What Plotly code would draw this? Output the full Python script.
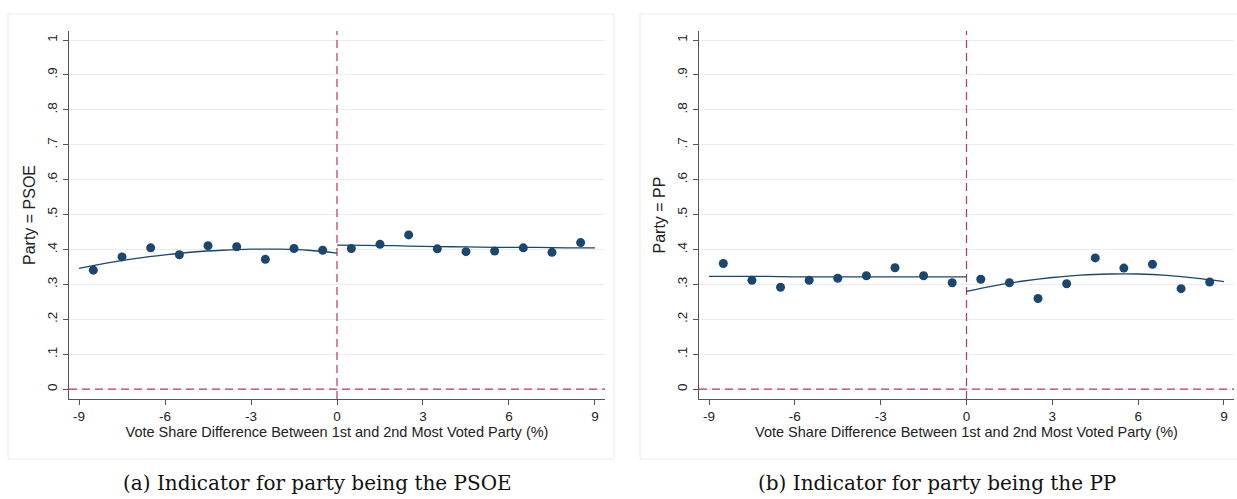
import plotly.graph_objects as go

# ---------------- data ----------------
bins = [-8.5, -7.5, -6.5, -5.5, -4.5, -3.5, -2.5, -1.5, -0.5,
        0.5, 1.5, 2.5, 3.5, 4.5, 5.5, 6.5, 7.5, 8.5]

psoe_pts = [0.341, 0.379, 0.405, 0.385, 0.411, 0.408, 0.372, 0.403, 0.398,
            0.403, 0.415, 0.442, 0.402, 0.394, 0.396, 0.405, 0.392, 0.420]
pp_pts = [0.360, 0.312, 0.292, 0.312, 0.318, 0.325, 0.348, 0.325, 0.305,
          0.315, 0.305, 0.260, 0.302, 0.376, 0.347, 0.358, 0.288, 0.307]

fit_x_left = [-9, -8, -7, -6, -5, -4, -3, -2, -1, 0]
fit_x_right = [0, 1, 2, 3, 4, 5, 6, 7, 8, 9]
psoe_fit_left = [0.346, 0.362, 0.375, 0.385, 0.393, 0.398, 0.401, 0.401, 0.398, 0.390]
psoe_fit_right = [0.413, 0.412, 0.411, 0.409, 0.408, 0.407, 0.406, 0.406, 0.405, 0.405]
pp_fit_left = [0.323, 0.323, 0.323, 0.322, 0.322, 0.322, 0.322, 0.322, 0.322, 0.322]
pp_fit_right = [0.280, 0.297, 0.310, 0.320, 0.327, 0.330, 0.330, 0.326, 0.318, 0.308]

y_ticks = [0, 0.1, 0.2, 0.3, 0.4, 0.5, 0.6, 0.7, 0.8, 0.9, 1]
y_ticklabels = ["0", ".1", ".2", ".3", ".4", ".5", ".6", ".7", ".8", ".9", "1"]
x_ticks = [-9, -6, -3, 0, 3, 6, 9]
x_ticklabels = ["-9", "-6", "-3", "0", "3", "6", "9"]

x_title = "Vote Share Difference Between 1st and 2nd Most Voted Party (%)"
y_titles = ["Party = PSOE", "Party = PP"]
captions = ["(a) Indicator for party being the PSOE", "(b) Indicator for party being the PP"]

# ---------------- style ----------------
W, H = 1237, 499
NAVY = "#1a476f"
RED = "#b8385f"
GRID = "#ececec"
AXIS = "#555555"
FONT = "Liberation Sans, Arial, sans-serif"
TXT = "#222222"

fig = go.Figure()

panels = [
    dict(xa="x", ya="y", pts=psoe_pts, fl=psoe_fit_left, fr=psoe_fit_right,
         dom=[69 / W, 605 / W]),
    dict(xa="x2", ya="y2", pts=pp_pts, fl=pp_fit_left, fr=pp_fit_right,
         dom=[699 / W, 1234 / W]),
]

ydom = [1 - 399 / H, 1 - 31 / H]
xr = [-9.35, 9.35]
yr = [-0.028, 1.026]

for p in panels:
    # red dashed reference lines
    fig.add_trace(go.Scatter(x=[0, 0], y=[yr[0], yr[1]], mode="lines",
                             line=dict(color=RED, width=1.2, dash="8px,5px"),
                             xaxis=p["xa"], yaxis=p["ya"], hoverinfo="skip"))
    fig.add_trace(go.Scatter(x=[xr[0], xr[1]], y=[0, 0], mode="lines",
                             line=dict(color=RED, width=1.2, dash="8px,5px"),
                             xaxis=p["xa"], yaxis=p["ya"], hoverinfo="skip"))
    # fitted lines
    fig.add_trace(go.Scatter(x=fit_x_left, y=p["fl"], mode="lines",
                             line=dict(color=NAVY, width=1.3, shape="spline"),
                             xaxis=p["xa"], yaxis=p["ya"]))
    fig.add_trace(go.Scatter(x=fit_x_right, y=p["fr"], mode="lines",
                             line=dict(color=NAVY, width=1.3, shape="spline"),
                             xaxis=p["xa"], yaxis=p["ya"]))
    # binned means
    fig.add_trace(go.Scatter(x=bins, y=p["pts"], mode="markers",
                             marker=dict(color=NAVY, size=9),
                             xaxis=p["xa"], yaxis=p["ya"]))

axis_common_x = dict(range=xr, tickvals=x_ticks, ticktext=x_ticklabels,
                     showgrid=False, zeroline=False, showline=True,
                     linecolor=AXIS, linewidth=1.3, ticks="outside",
                     ticklen=5, tickwidth=1, tickcolor=AXIS,
                     tickfont=dict(family=FONT, size=13.5, color=TXT),
                     title=dict(text=x_title, standoff=2,
                                font=dict(family=FONT, size=14.5, color=TXT)))
axis_common_y = dict(range=yr, tickvals=y_ticks, ticktext=y_ticklabels,
                     showgrid=True, gridcolor=GRID, gridwidth=1,
                     zeroline=False, showline=True, linecolor=AXIS,
                     linewidth=1.3, ticks="outside", ticklen=5, tickwidth=1,
                     tickcolor=AXIS, tickangle=-90,
                     tickfont=dict(family=FONT, size=13.5, color=TXT),
                     domain=ydom)

fig.update_layout(
    width=W, height=H,
    margin=dict(l=0, r=0, t=0, b=0),
    paper_bgcolor="white", plot_bgcolor="white",
    showlegend=False,
    xaxis=dict(axis_common_x, domain=panels[0]["dom"], anchor="y"),
    yaxis=dict(axis_common_y, anchor="x",
               title=dict(text=y_titles[0], standoff=5,
                          font=dict(family=FONT, size=16, color=TXT))),
    xaxis2=dict(axis_common_x, domain=panels[1]["dom"], anchor="y2"),
    yaxis2=dict(axis_common_y, anchor="x2",
                title=dict(text=y_titles[1], standoff=5,
                           font=dict(family=FONT, size=16, color=TXT))),
)

# faint panel frames
for x0, x1 in [(8, 614), (640, 1245)]:
    fig.add_shape(type="rect", xref="paper", yref="paper",
                  x0=x0 / W, x1=x1 / W, y0=1 - 459 / H, y1=1 - 14 / H,
                  line=dict(color="#ebebeb", width=1), layer="below")

# captions
for cx, text in [(317 / W, captions[0]), (937 / W, captions[1])]:
    fig.add_annotation(x=cx, y=1 - 483 / H, xref="paper", yref="paper",
                       text=text, showarrow=False,
                       font=dict(family="DejaVu Serif, Liberation Serif, serif",
                                 size=20, color="#111111"),
                       xanchor="center", yanchor="middle")

fig.write_html("out.html")
